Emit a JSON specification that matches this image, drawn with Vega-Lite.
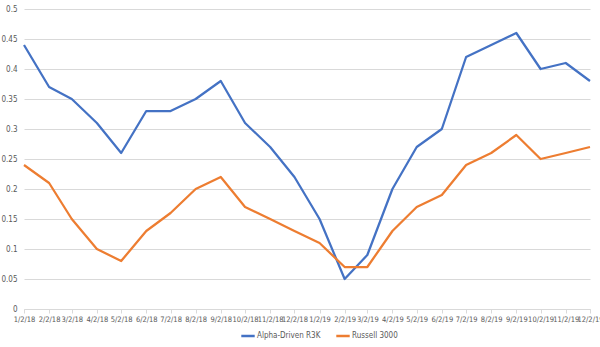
{
  "$schema": "https://vega.github.io/schema/vega-lite/v6.json",
  "autosize": {"type": "none"},
  "padding": {"left": 24, "top": 9, "right": 10, "bottom": 38},
  "width": 566,
  "height": 300,
  "background": "white",
  "data": {
    "values": [
      {"date": "2018-01-02", "series": "Alpha-Driven R3K", "value": 0.44},
      {"date": "2018-02-02", "series": "Alpha-Driven R3K", "value": 0.37},
      {"date": "2018-03-02", "series": "Alpha-Driven R3K", "value": 0.35},
      {"date": "2018-04-02", "series": "Alpha-Driven R3K", "value": 0.31},
      {"date": "2018-05-02", "series": "Alpha-Driven R3K", "value": 0.26},
      {"date": "2018-06-02", "series": "Alpha-Driven R3K", "value": 0.33},
      {"date": "2018-07-02", "series": "Alpha-Driven R3K", "value": 0.33},
      {"date": "2018-08-02", "series": "Alpha-Driven R3K", "value": 0.35},
      {"date": "2018-09-02", "series": "Alpha-Driven R3K", "value": 0.38},
      {"date": "2018-10-02", "series": "Alpha-Driven R3K", "value": 0.31},
      {"date": "2018-11-02", "series": "Alpha-Driven R3K", "value": 0.27},
      {"date": "2018-12-02", "series": "Alpha-Driven R3K", "value": 0.22},
      {"date": "2019-01-02", "series": "Alpha-Driven R3K", "value": 0.15},
      {"date": "2019-02-02", "series": "Alpha-Driven R3K", "value": 0.05},
      {"date": "2019-03-02", "series": "Alpha-Driven R3K", "value": 0.09},
      {"date": "2019-04-02", "series": "Alpha-Driven R3K", "value": 0.20},
      {"date": "2019-05-02", "series": "Alpha-Driven R3K", "value": 0.27},
      {"date": "2019-06-02", "series": "Alpha-Driven R3K", "value": 0.30},
      {"date": "2019-07-02", "series": "Alpha-Driven R3K", "value": 0.42},
      {"date": "2019-08-02", "series": "Alpha-Driven R3K", "value": 0.44},
      {"date": "2019-09-02", "series": "Alpha-Driven R3K", "value": 0.46},
      {"date": "2019-10-02", "series": "Alpha-Driven R3K", "value": 0.40},
      {"date": "2019-11-02", "series": "Alpha-Driven R3K", "value": 0.41},
      {"date": "2019-12-02", "series": "Alpha-Driven R3K", "value": 0.38},
      {"date": "2018-01-02", "series": "Russell 3000", "value": 0.24},
      {"date": "2018-02-02", "series": "Russell 3000", "value": 0.21},
      {"date": "2018-03-02", "series": "Russell 3000", "value": 0.15},
      {"date": "2018-04-02", "series": "Russell 3000", "value": 0.10},
      {"date": "2018-05-02", "series": "Russell 3000", "value": 0.08},
      {"date": "2018-06-02", "series": "Russell 3000", "value": 0.13},
      {"date": "2018-07-02", "series": "Russell 3000", "value": 0.16},
      {"date": "2018-08-02", "series": "Russell 3000", "value": 0.20},
      {"date": "2018-09-02", "series": "Russell 3000", "value": 0.22},
      {"date": "2018-10-02", "series": "Russell 3000", "value": 0.17},
      {"date": "2018-11-02", "series": "Russell 3000", "value": 0.15},
      {"date": "2018-12-02", "series": "Russell 3000", "value": 0.13},
      {"date": "2019-01-02", "series": "Russell 3000", "value": 0.11},
      {"date": "2019-02-02", "series": "Russell 3000", "value": 0.07},
      {"date": "2019-03-02", "series": "Russell 3000", "value": 0.07},
      {"date": "2019-04-02", "series": "Russell 3000", "value": 0.13},
      {"date": "2019-05-02", "series": "Russell 3000", "value": 0.17},
      {"date": "2019-06-02", "series": "Russell 3000", "value": 0.19},
      {"date": "2019-07-02", "series": "Russell 3000", "value": 0.24},
      {"date": "2019-08-02", "series": "Russell 3000", "value": 0.26},
      {"date": "2019-09-02", "series": "Russell 3000", "value": 0.29},
      {"date": "2019-10-02", "series": "Russell 3000", "value": 0.25},
      {"date": "2019-11-02", "series": "Russell 3000", "value": 0.26},
      {"date": "2019-12-02", "series": "Russell 3000", "value": 0.27}
    ]
  },
  "mark": {"type": "line", "strokeWidth": 2.25, "strokeJoin": "round", "clip": false},
  "encoding": {
    "x": {
      "field": "date",
      "type": "temporal",
      "scale": {"type": "utc", "nice": false},
      "axis": {
        "title": null,
        "values": [
          {"year": 2018, "month": 1, "date": 2, "utc": true},
          {"year": 2018, "month": 2, "date": 2, "utc": true},
          {"year": 2018, "month": 3, "date": 2, "utc": true},
          {"year": 2018, "month": 4, "date": 2, "utc": true},
          {"year": 2018, "month": 5, "date": 2, "utc": true},
          {"year": 2018, "month": 6, "date": 2, "utc": true},
          {"year": 2018, "month": 7, "date": 2, "utc": true},
          {"year": 2018, "month": 8, "date": 2, "utc": true},
          {"year": 2018, "month": 9, "date": 2, "utc": true},
          {"year": 2018, "month": 10, "date": 2, "utc": true},
          {"year": 2018, "month": 11, "date": 2, "utc": true},
          {"year": 2018, "month": 12, "date": 2, "utc": true},
          {"year": 2019, "month": 1, "date": 2, "utc": true},
          {"year": 2019, "month": 2, "date": 2, "utc": true},
          {"year": 2019, "month": 3, "date": 2, "utc": true},
          {"year": 2019, "month": 4, "date": 2, "utc": true},
          {"year": 2019, "month": 5, "date": 2, "utc": true},
          {"year": 2019, "month": 6, "date": 2, "utc": true},
          {"year": 2019, "month": 7, "date": 2, "utc": true},
          {"year": 2019, "month": 8, "date": 2, "utc": true},
          {"year": 2019, "month": 9, "date": 2, "utc": true},
          {"year": 2019, "month": 10, "date": 2, "utc": true},
          {"year": 2019, "month": 11, "date": 2, "utc": true},
          {"year": 2019, "month": 12, "date": 2, "utc": true}
        ],
        "format": "%-m/%-d/%y",
        "grid": false,
        "domainColor": "#d9d9d9",
        "tickColor": "#d9d9d9",
        "tickSize": 4,
        "labelPadding": 2,
        "labelColor": "#595959",
        "labelFontSize": 7.5,
        "labelFont": "Liberation Sans Narrow, DejaVu Sans Condensed, Liberation Sans",
        "labelAngle": 0,
        "labelOverlap": false,
        "labelFlush": false
      }
    },
    "y": {
      "field": "value",
      "type": "quantitative",
      "scale": {"domain": [0, 0.5], "nice": false},
      "axis": {
        "title": null,
        "values": [0, 0.05, 0.1, 0.15, 0.2, 0.25, 0.3, 0.35, 0.4, 0.45, 0.5],
        "format": "~g",
        "domain": false,
        "ticks": false,
        "gridColor": "#d9d9d9",
        "gridWidth": 1,
        "labelPadding": 7,
        "labelColor": "#595959",
        "labelFontSize": 8,
        "labelFont": "Liberation Sans Narrow, DejaVu Sans Condensed, Liberation Sans"
      }
    },
    "color": {
      "field": "series",
      "type": "nominal",
      "scale": {"domain": ["Alpha-Driven R3K", "Russell 3000"], "range": ["#4472C4", "#ED7D31"]},
      "legend": {
        "title": null,
        "orient": "none",
        "legendX": 216,
        "legendY": 319,
        "direction": "horizontal",
        "symbolType": "stroke",
        "symbolStrokeWidth": 2.5,
        "symbolSize": 180,
        "labelOffset": 1,
        "labelColor": "#595959",
        "labelFontSize": 8,
        "labelFont": "Liberation Sans Narrow, DejaVu Sans Condensed, Liberation Sans",
        "columnPadding": 10
      }
    }
  },
  "config": {"view": {"stroke": null}}
}
